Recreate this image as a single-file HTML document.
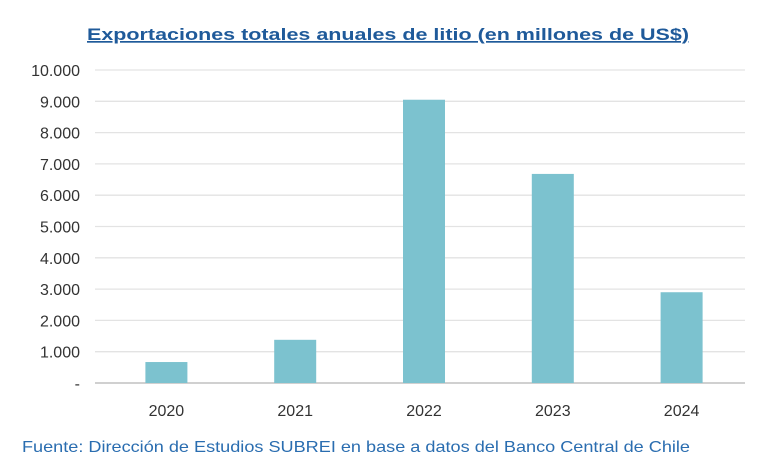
<!DOCTYPE html>
<html><head><meta charset="utf-8"><style>
body{margin:0;background:#fff;}
svg{display:block;font-family:"Liberation Sans",sans-serif;}
</style></head><body>
<svg id="chart" width="768" height="476">
<text x="87" y="40" font-size="17" font-weight="bold" fill="#1f5a9a" text-decoration="underline" textLength="602" lengthAdjust="spacingAndGlyphs">Exportaciones totales anuales de litio (en millones de US$)</text>
<g id="grid"></g><g id="bars"></g><g id="xlabels"></g>
<text x="22" y="452" font-size="16" fill="#2a6db0" textLength="668" lengthAdjust="spacingAndGlyphs">Fuente: Dirección de Estudios SUBREI en base a datos del Banco Central de Chile</text>
</svg>
<script>
const categories=["2020","2021","2022","2023","2024"];
const values=[670,1380,9050,6680,2900];
const ticks=[0,1000,2000,3000,4000,5000,6000,7000,8000,9000,10000];
const tickLabels=["-","1.000","2.000","3.000","4.000","5.000","6.000","7.000","8.000","9.000","10.000"];
const ns="http://www.w3.org/2000/svg";
const x0=95,x1=745,yTop=70,yBot=383,maxV=10000;
const y=v=>yBot-(v/maxV)*(yBot-yTop);
const bx0=102,band=128.8;
const xc=i=>bx0+band*(i+0.5);
function mk(t,a,p){const e=document.createElementNS(ns,t);for(const k in a)e.setAttribute(k,a[k]);p.appendChild(e);return e;}
const g=document.getElementById('grid');
ticks.forEach((t,i)=>{
 const l=mk('line',{x1:x0,x2:x1,y1:y(t),y2:y(t),stroke:i===0?'#d0d0d0':'#e3e3e3','stroke-width':i===0?2:1.3},g);
 
 
 const tx=mk('text',{x:80,y:y(t)+6,'text-anchor':'end','font-size':16,fill:'#333'},g);
 tx.textContent=tickLabels[i];
 
 
});
const b=document.getElementById('bars'),xl=document.getElementById('xlabels');
values.forEach((v,i)=>{
 const r=mk('rect',{x:xc(i)-21,y:y(v),width:42,height:yBot-y(v),fill:'#7cc2cf'},b);
 
 
 const t=mk('text',{x:xc(i),y:416,'text-anchor':'middle','font-size':16,fill:'#333'},xl);
 t.textContent=categories[i];
 
 
});
</script>
</body></html>
